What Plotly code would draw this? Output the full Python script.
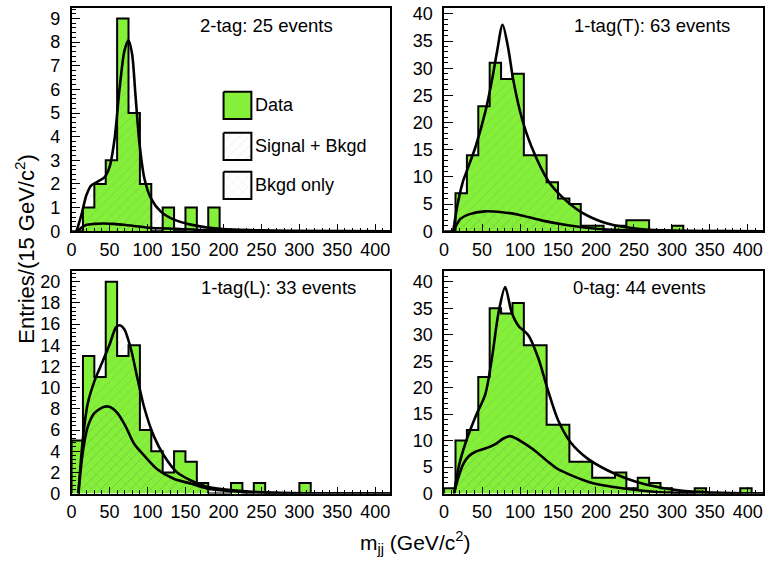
import plotly.graph_objects as go

# ---------------- data ----------------
BIN_W = 15.0
panel_labels = ["2-tag: 25 events", "1-tag(T): 63 events", "1-tag(L): 33 events", "0-tag: 44 events"]

# histogram contents, bins of 15 GeV starting at 0
tl_counts = [0, 1, 2, 3, 9, 5, 2, 0, 1, 0, 1, 0, 1]
tr_counts = [0, 7, 14, 23, 31, 28, 29, 14, 14, 9, 6, 5, 1, 1, 0, 1, 2, 2, 0, 0, 1]
bl_counts = [5, 13, 11, 20, 13, 14, 6, 4, 2, 4, 3, 1, 0, 0, 1, 0, 1, 0, 0, 0, 1]
br_counts = [1, 10, 12, 22, 35, 34, 36, 28, 28, 13, 13, 6, 6, 3, 3, 4, 1, 3, 2, 1, 0, 0, 1, 0, 0, 0, 1]

# fitted curves: signal + background
tl_sb_x = [6.5, 13, 19.6, 26, 35, 43.6, 50, 56.6, 63, 69.7, 75, 79.7, 84, 89.3, 96, 104.6, 117.6, 135, 157, 196, 260, 330, 420]
tl_sb_y = [0, 0.69, 1.53, 1.94, 2.11, 2.29, 2.71, 3.89, 5.97, 7.64, 8.08, 7.5, 5.83, 3.75, 2.22, 1.39, 0.83, 0.49, 0.28, 0.1, 0.03, 0.01, 0.0]
tr_sb_x = [12, 17.4, 24.5, 30.4, 41.3, 54.3, 63, 69.6, 77, 84, 91.4, 102, 115, 137, 154, 180.5, 215, 265, 308, 360, 420]
tr_sb_y = [0, 4.7, 9.0, 11.3, 15.5, 22, 27.8, 33, 38, 34, 27.6, 21, 15.6, 9.3, 6.5, 3.5, 1.4, 0.3, 0.1, 0.03, 0]
bl_sb_x = [9, 14.8, 21.3, 30, 41, 49.7, 58.4, 62.7, 69.3, 78, 86.7, 95.4, 108.5, 121.6, 139, 156.5, 178, 217, 261, 320, 420]
bl_sb_y = [0, 5.1, 8.5, 10.6, 12.5, 14.0, 15.7, 15.9, 15.55, 13.7, 10.9, 8.2, 5.4, 3.6, 2.0, 1.26, 0.65, 0.28, 0.09, 0.02, 0]
br_sb_x = [13, 19.6, 28.3, 41.3, 54.3, 63, 71.7, 80.4, 89, 97.8, 110.9, 124, 137, 150, 167, 189, 215, 241, 267, 311, 354, 420]
br_sb_y = [0, 5.3, 9.6, 14.5, 18.8, 25.6, 34.2, 39.0, 34.2, 31.7, 29.9, 25.6, 19.4, 13.9, 9.6, 6.6, 4.4, 2.8, 1.66, 0.55, 0.2, 0.02]

# fitted curves: background only
tl_b_x = [8, 12, 19, 30, 41, 55, 71.5, 102, 137, 180, 250, 420]
tl_b_y = [0, 0.12, 0.26, 0.31, 0.33, 0.31, 0.26, 0.15, 0.1, 0.04, 0.01, 0]
tr_b_x = [12, 15, 21.7, 32.6, 54, 76, 98, 128, 163, 194, 240, 300, 420]
tr_b_y = [0, 0.84, 2.3, 3.1, 3.65, 3.5, 3.05, 2.0, 1.1, 0.54, 0.15, 0.03, 0]
bl_b_x = [9, 14.8, 21.3, 30, 43, 49.7, 60.5, 71.5, 82.4, 95.4, 112.8, 134.6, 156.5, 178, 217, 261, 320, 420]
bl_b_y = [0, 3.9, 6.3, 7.6, 8.2, 8.2, 7.6, 6.3, 4.7, 3.6, 2.3, 1.4, 0.95, 0.49, 0.2, 0.07, 0.02, 0]
br_b_x = [13, 18.5, 25, 32, 41.3, 54, 67, 78, 87, 95, 102, 119.6, 137, 150, 170, 195, 237, 280, 330, 420]
br_b_y = [0, 2.9, 5.5, 7.0, 7.9, 8.5, 9.3, 10.4, 10.85, 10.4, 9.8, 8.1, 6.0, 4.6, 3.3, 2.0, 0.95, 0.3, 0.08, 0]

x_ticks = [0, 50, 100, 150, 200, 250, 300, 350, 400]
legend_labels = ["Data", "Signal + Bkgd", "Bkgd only"]
x_title = "m<sub>jj</sub> (GeV/c<sup>2</sup>)"
y_title = "Entries/(15 GeV/c<sup>2</sup>)"

# ---------------- style ----------------
W, H = 766, 565
GREEN = "#84F03A"
FONT = "Liberation Sans, Arial, Helvetica, sans-serif"
HATCH = "rgba(90,90,90,0.4)"
CLEAR = "rgba(0,0,0,0)"

panels = [
    dict(counts=tl_counts, sbx=tl_sb_x, sby=tl_sb_y, bx=tl_b_x, by=tl_b_y, ymax=9.45, dt=1, mdt=0.2,
         px=(67, 388), py=(4, 233), label_xy=(194, 22)),
    dict(counts=tr_counts, sbx=tr_sb_x, sby=tr_sb_y, bx=tr_b_x, by=tr_b_y, ymax=41.1, dt=5, mdt=1,
         px=(442, 763), py=(4, 233), label_xy=(571, 22)),
    dict(counts=bl_counts, sbx=bl_sb_x, sby=bl_sb_y, bx=bl_b_x, by=bl_b_y, ymax=21.0, dt=2, mdt=0.4,
         px=(67, 388), py=(274, 502), label_xy=(195, 291)),
    dict(counts=br_counts, sbx=br_sb_x, sby=br_sb_y, bx=br_b_x, by=br_b_y, ymax=42.0, dt=5, mdt=1,
         px=(442, 763), py=(274, 502), label_xy=(570, 291)),
]

fig = go.Figure()
layout = dict(width=W, height=H, autosize=False, margin=dict(l=0, r=0, t=0, b=0),
              paper_bgcolor="white", plot_bgcolor=CLEAR, showlegend=False,
              font=dict(family=FONT, size=18, color="black"))
annotations = []

for i, p in enumerate(panels):
    n = i + 1
    xa = "x" if n == 1 else f"x{n}"
    ya = "y" if n == 1 else f"y{n}"
    counts = p["counts"]
    edges = [k * BIN_W for k in range(len(counts) + 1)]
    # green filled histogram
    fx = edges[:-1] + [edges[-1]]
    fy = counts + [counts[-1]]
    fig.add_trace(go.Scatter(x=fx, y=fy, mode="lines", line=dict(shape="hv", width=0),
                             fill="tozeroy", fillcolor=GREEN, xaxis=xa, yaxis=ya, hoverinfo="skip"))
    # hatched signal+bkgd area
    fig.add_trace(go.Scatter(x=p["sbx"], y=p["sby"], mode="lines",
                             line=dict(shape="spline", smoothing=0.8, width=0),
                             fill="tozeroy", fillcolor=CLEAR,
                             fillpattern=dict(shape="/", fgcolor=HATCH, bgcolor=CLEAR, size=7, solidity=0.12),
                             xaxis=xa, yaxis=ya, hoverinfo="skip"))
    # cross-hatched bkgd area
    fig.add_trace(go.Scatter(x=p["bx"], y=p["by"], mode="lines",
                             line=dict(shape="spline", smoothing=0.8, width=0),
                             fill="tozeroy", fillcolor=CLEAR,
                             fillpattern=dict(shape="x", fgcolor=HATCH, bgcolor=CLEAR, size=7, solidity=0.12),
                             xaxis=xa, yaxis=ya, hoverinfo="skip"))
    # histogram outline
    ox = [edges[0]] + edges[:-1] + [edges[-1], edges[-1]]
    oy = [0] + counts + [counts[-1], 0]
    fig.add_trace(go.Scatter(x=ox, y=oy, mode="lines", line=dict(shape="hv", width=2, color="black"),
                             xaxis=xa, yaxis=ya, hoverinfo="skip"))
    # curves
    fig.add_trace(go.Scatter(x=p["sbx"], y=p["sby"], mode="lines",
                             line=dict(shape="spline", smoothing=0.8, width=2.6, color="black"),
                             xaxis=xa, yaxis=ya, hoverinfo="skip"))
    fig.add_trace(go.Scatter(x=p["bx"], y=p["by"], mode="lines",
                             line=dict(shape="spline", smoothing=0.8, width=2.6, color="black"),
                             xaxis=xa, yaxis=ya, hoverinfo="skip"))

    xkey = "xaxis" if n == 1 else f"xaxis{n}"
    ykey = "yaxis" if n == 1 else f"yaxis{n}"
    layout[xkey] = dict(domain=[p["px"][0] / W, p["px"][1] / W], anchor=ya, range=[0, 420],
                        tickmode="array", tickvals=x_ticks, ticks="inside", ticklen=7, tickwidth=1.2,
                        tickcolor="black", showline=True, mirror=True, linecolor="black", linewidth=1.5,
                        showgrid=False, zeroline=False, tickfont=dict(size=18), ticklabelstandoff=1,
                        minor=dict(ticks="inside", dtick=10, ticklen=3.5, tickwidth=1, tickcolor="black", showgrid=False))
    layout[ykey] = dict(domain=[1 - p["py"][1] / H, 1 - p["py"][0] / H], anchor=xa, range=[0, p["ymax"]],
                        dtick=p["dt"], tick0=0, ticks="inside", ticklen=9, tickwidth=1.2, tickcolor="black",
                        showline=True, mirror=True, linecolor="black", linewidth=1.5,
                        showgrid=False, zeroline=False, tickfont=dict(size=18), ticklabelstandoff=6,
                        minor=dict(ticks="inside", dtick=p["mdt"], ticklen=4.5, tickwidth=1, tickcolor="black", showgrid=False))
    annotations.append(dict(text=panel_labels[i], xref="paper", yref="paper",
                            x=p["label_xy"][0] / W, y=1 - p["label_xy"][1] / H,
                            xanchor="left", yanchor="middle", showarrow=False, font=dict(size=18.5)))

# overlay pixel axis for the legend boxes
layout["xaxis5"] = dict(domain=[0, 1], range=[0, W], visible=False, fixedrange=True, anchor="y5")
layout["yaxis5"] = dict(domain=[0, 1], range=[H, 0], visible=False, fixedrange=True, anchor="x5")
leg_boxes = [(220, 90), (220, 132), (220, 172)]
leg_styles = [dict(fillcolor=GREEN),
              dict(fillcolor=CLEAR, fillpattern=dict(shape="/", fgcolor="rgba(90,90,90,0.3)", bgcolor="white", size=7, solidity=0.12)),
              dict(fillcolor=CLEAR, fillpattern=dict(shape="x", fgcolor="rgba(90,90,90,0.3)", bgcolor="white", size=7, solidity=0.12))]
for (bx0, by0), st, lab in zip(leg_boxes, leg_styles, legend_labels):
    s = 28
    fig.add_trace(go.Scatter(x=[bx0, bx0 + s, bx0 + s, bx0, bx0], y=[by0, by0, by0 + s, by0 + s, by0],
                             mode="lines", fill="toself", line=dict(color="black", width=2),
                             xaxis="x5", yaxis="y5", hoverinfo="skip", **st))
    annotations.append(dict(text=lab, xref="x5", yref="y5", x=bx0 + s + 2, y=by0 + s / 2,
                            xanchor="left", yanchor="middle", showarrow=False, font=dict(size=18)))

annotations.append(dict(text=x_title, xref="paper", yref="paper", x=413 / W, y=1 - 552 / H,
                        xanchor="center", yanchor="middle", showarrow=False, font=dict(size=21)))
annotations.append(dict(text=y_title, xref="paper", yref="paper", x=20 / W, y=1 - 251 / H,
                        xanchor="center", yanchor="middle", showarrow=False, textangle=-90, font=dict(size=22)))

layout["annotations"] = annotations
fig.update_layout(**layout)
fig.write_html("out.html")
